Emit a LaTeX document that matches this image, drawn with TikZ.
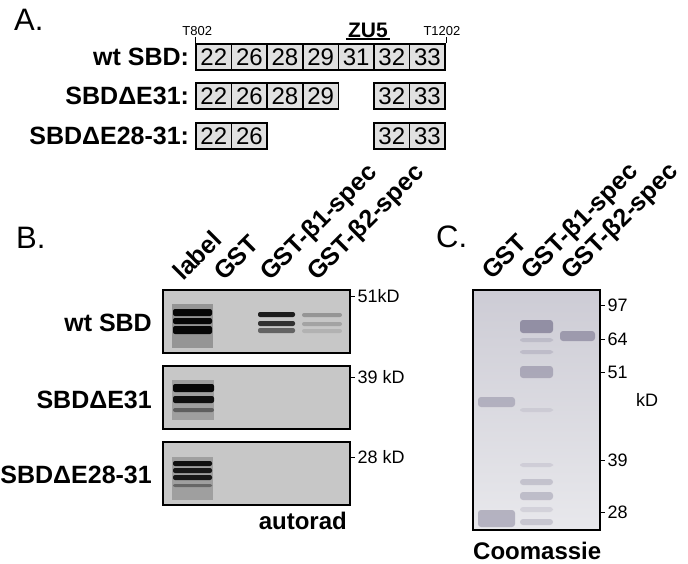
\documentclass[tikz,border=0pt]{standalone}
\usepackage{fontspec}
\setmainfont{Liberation Sans}
\usetikzlibrary{positioning}
\definecolor{exongray}{gray}{0.88}
\definecolor{blotgray}{gray}{0.78}
\definecolor{geltop}{RGB}{205,204,213}
\definecolor{gelbottom}{RGB}{232,232,236}
\definecolor{stain}{RGB}{105,100,130}
\newcommand{\fs}[1]{\fontsize{#1}{#1}\selectfont}
\tikzset{
  exon/.style={draw, line width=1.5pt, fill=exongray, minimum width=35.6pt,
    minimum height=26pt, inner sep=0pt, font=\fs{24}},
  rowlab/.style={font=\bfseries\fs{25}, inner sep=0pt},
  lanelab/.style={font=\bfseries\fs{25}, rotate=45, anchor=base west, inner sep=0pt},
  panellab/.style={font=\fs{31}, anchor=base west, inner sep=0pt},
  kd/.style={font=\fs{18}, anchor=west, inner sep=0pt, xshift=2pt},
  frame/.style={line width=2.4pt},
  band/.style={fill=black, rounded corners=2pt},
  stainband/.style={fill=stain, rounded corners=3pt},
}
\begin{document}
\begin{tikzpicture}[x=1pt, y=-1pt]
  \useasboundingbox (0,0) rectangle (688,563);
  % panel labels
  \node[panellab] (pA) at (14,30) {A.};
  \node[panellab] (pB) at (16,248) {B.};
  \node[panellab] (pC) at (436,247) {C.};
  % A: exon maps
  \foreach \n/\i in {22/1,26/2,28/3,29/4,31/5,32/6,33/7}
    \node[exon] (w\n) at ({196+35.6*(\i-0.5)},57) {\n};
  \foreach \n/\i in {22/1,26/2,28/3,29/4,32/6,33/7}
    \node[exon] (a\n) at ({196+35.6*(\i-0.5)},96) {\n};
  \foreach \n/\i in {22/1,26/2,32/6,33/7}
    \node[exon] (b\n) at ({196+35.6*(\i-0.5)},136) {\n};
  \node[rowlab, left=6pt of w22] (wtlab) {wt SBD:};
  \node[rowlab, left=6pt of a22] (e31lab) {SBDΔE31:};
  \node[rowlab, left=6pt of b22] (e28lab) {SBDΔE28-31:};
  \draw[line width=0.8pt] (w22.north west) -- ++(0,-6) node[above, font=\fs{13}, inner sep=1pt, xshift=2pt] (t802) {T802};
  \draw[line width=0.8pt] (w33.north east) -- ++(0,-6) node[above, font=\fs{13}, inner sep=1pt, xshift=-4pt] (t1202) {T1202};
  \node[font=\bfseries\fs{21}, inner sep=0pt] (zu5) at (368,30) {ZU5};
  \draw[line width=1.3pt] ([xshift=-2pt,yshift=-1.5pt]zu5.south west) -- ([xshift=2pt,yshift=-1.5pt]zu5.south east);
  % B: autorad blots
  \foreach \t in {290,366,442}
    \fill[blotgray] (163,\t) rectangle (350,\t+63);
  \fill[black, opacity=.25] (172,304) rectangle (213,348);
  \fill[black, opacity=.2] (172,380) rectangle (214,420);
  \fill[black, opacity=.2] (172,457) rectangle (213,500);
  \foreach \xa/\xb/\ya/\yb/\op in {173/212/309/316/.95, 173/212/318/324/.95, 173/212/326/334/.95,
      258/295/312/317/.85, 258/295/321/326/.75, 258/295/328/333/.5,
      302/342/313/317/.25, 302/342/322/326/.18, 302/342/329/333/.1,
      173/214/384/392/.95, 173/214/396/403/.9, 173/214/408/412/.4,
      173/212/461/466/.9, 173/212/468/473/.85, 173/212/475/480/.85, 173/212/484/487/.35}
    \fill[band, opacity=\op] (\xa,\ya) rectangle (\xb,\yb);
  \foreach \t in {290,366,442}
    \draw[frame] (163,\t) rectangle (350,\t+63);
  \draw[line width=1pt] (350,296) -- (355,296) node[kd] (kd51) {51kD};
  \draw[line width=1pt] (350,377) -- (355,377) node[kd] (kd39) {39 kD};
  \draw[line width=1pt] (350,457) -- (355,457) node[kd] (kd28) {28 kD};
  \node[rowlab, anchor=east] (wtsbd) at (152,323) {wt SBD};
  \node[rowlab, anchor=east] (sbde31) at (152,400) {SBDΔE31};
  \node[rowlab, anchor=east] (sbde28) at (152,475) {SBDΔE28-31};
  \node[font=\bfseries\fs{24}, anchor=base east, inner sep=0pt] (autorad) at (347,529) {autorad};
  \foreach \x/\t/\n in {183/label/lbl, 224/GST/gst, 270/GST-β1-spec/bone, 317/GST-β2-spec/btwo}
    \node[lanelab] (B\n) at (\x,282) {\t};
  % C: coomassie gel
  \shade[top color=geltop, bottom color=gelbottom] (473,290) rectangle (600,530);
  \foreach \xa/\xb/\ya/\yb/\op in {478/515/397/407/.35, 478/515/510/527/.4,
      520/553/320/333/.6, 520/553/338/342/.2, 520/553/350/354/.2, 520/553/366/378/.4,
      520/553/408/412/.12, 520/553/463/467/.15, 520/553/479/485/.25, 520/553/492/500/.3,
      520/553/507/512/.15, 520/553/519/525/.25,
      560/595/331/341/.5}
    \fill[stainband, opacity=\op] (\xa,\ya) rectangle (\xb,\yb);
  \draw[frame] (473,290) rectangle (600,530);
  \foreach \m/\y in {97/305,64/339,51/372,39/460,28/512}
    \draw[line width=1pt] (600,\y) -- (605,\y) node[kd] (m\m) {\m};
  \node[font=\fs{18}, inner sep=0pt] (kdunit) at (647,400) {kD};
  \node[font=\bfseries\fs{24}, anchor=base west, inner sep=0pt] (coomassie) at (473,559) {Coomassie};
  \foreach \x/\t/\n in {492/GST/gst, 531/GST-β1-spec/cone, 571/GST-β2-spec/ctwo}
    \node[lanelab] (C\n) at (\x,281) {\t};
\end{tikzpicture}
\end{document}
